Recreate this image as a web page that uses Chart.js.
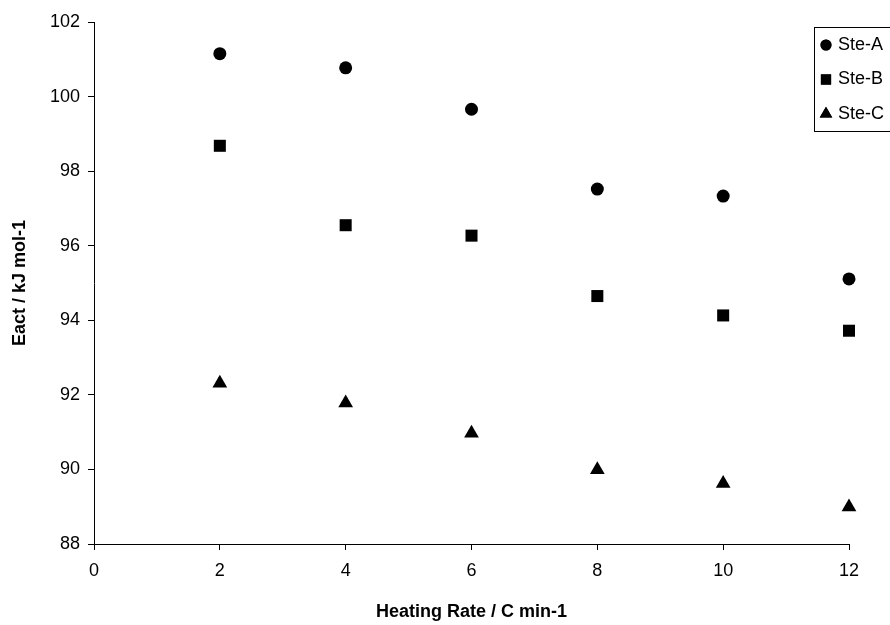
<!DOCTYPE html>
<html>
<head>
<meta charset="utf-8">
<script src="https://cdn.jsdelivr.net/npm/chart.js@4"></script>
<style>
  html, body { margin: 0; padding: 0; background: #fff; }
  #wrap { width: 890px; height: 625px; }
</style>
</head>
<body>
<div id="wrap"><canvas id="chart" width="890" height="625"></canvas></div>
<script>
const heatingRates = [2, 4, 6, 8, 10, 12];
const steA = [101.15, 100.77, 99.66, 97.52, 97.33, 95.11];
const steB = [98.68, 96.55, 96.27, 94.65, 94.13, 93.72];
const steC = [92.31, 91.78, 90.97, 89.99, 89.62, 88.99];
const seriesNames = ["Ste-A", "Ste-B", "Ste-C"];
const yTicks = [88, 90, 92, 94, 96, 98, 100, 102];
const xTicks = [0, 2, 4, 6, 8, 10, 12];

const FONT = "'Liberation Sans', Arial, sans-serif";
const toPoints = vals => vals.map((v, i) => ({ x: heatingRates[i], y: v }));

// legend box drawn by hand, sitting on the top right corner like the original
const legendBox = {
  id: "legendBox",
  afterDraw(chart) {
    const ctx = chart.ctx;
    ctx.save();
    ctx.fillStyle = "#fff";
    ctx.fillRect(814, 27, 80, 104);
    ctx.strokeStyle = "#000";
    ctx.lineWidth = 1;
    ctx.strokeRect(814.5, 27.5, 80, 104);
    ctx.font = "18px " + FONT;
    ctx.textBaseline = "middle";
    chart.data.datasets.forEach((ds, i) => {
      const y = 45 + i * 34.5;
      ctx.fillStyle = "#000";
      Chart.helpers.drawPoint(ctx, {
        pointStyle: ds.pointStyle,
        radius: ds.pointRadius * 0.85,
        rotation: 0
      }, 826, y);
      ctx.fill();
      ctx.fillText(ds.label, 838, y);
    });
    ctx.restore();
  }
};

new Chart(document.getElementById("chart"), {
  type: "scatter",
  data: {
    datasets: [
      { label: seriesNames[0], data: toPoints(steA), pointStyle: "circle", pointRadius: 6.5 },
      { label: seriesNames[1], data: toPoints(steB), pointStyle: "rect", pointRadius: 8.5 },
      { label: seriesNames[2], data: toPoints(steC), pointStyle: "triangle", pointRadius: 8.5 }
    ].map(d => Object.assign(d, {
      backgroundColor: "#000",
      borderColor: "#000",
      borderWidth: 0,
      clip: false,
      pointHoverRadius: d.pointRadius
    }))
  },
  options: {
    responsive: false,
    animation: false,
    layout: { padding: { top: 22, right: 41, left: 0, bottom: 0 } },
    plugins: { legend: { display: false }, tooltip: { enabled: false } },
    scales: {
      x: {
        type: "linear",
        min: 0,
        max: 12,
        afterBuildTicks: s => { s.ticks = xTicks.map(v => ({ value: v })); },
        afterFit: s => { s.height = 81; },
        border: { color: "#000", width: 1 },
        grid: { drawOnChartArea: false, tickLength: 6, color: "#000" },
        ticks: { color: "#000", font: { family: FONT, size: 18 }, padding: 10 },
        title: {
          display: true,
          text: "Heating Rate / C min-1",
          color: "#000",
          font: { family: FONT, size: 18, weight: "bold" },
          padding: { top: 0, bottom: 2 }
        }
      },
      y: {
        min: 88,
        max: 102,
        afterBuildTicks: s => { s.ticks = yTicks.map(v => ({ value: v })); },
        afterFit: s => { s.width = 94; },
        border: { color: "#000", width: 1 },
        grid: { drawOnChartArea: false, tickLength: 6, color: "#000" },
        ticks: { color: "#000", font: { family: FONT, size: 18 }, padding: 8 },
        title: {
          display: true,
          text: "Eact / kJ mol-1",
          color: "#000",
          font: { family: FONT, size: 18, weight: "bold" },
          padding: { top: 9, bottom: 0 }
        }
      }
    }
  },
  plugins: [legendBox]
});
</script>
</body>
</html>
